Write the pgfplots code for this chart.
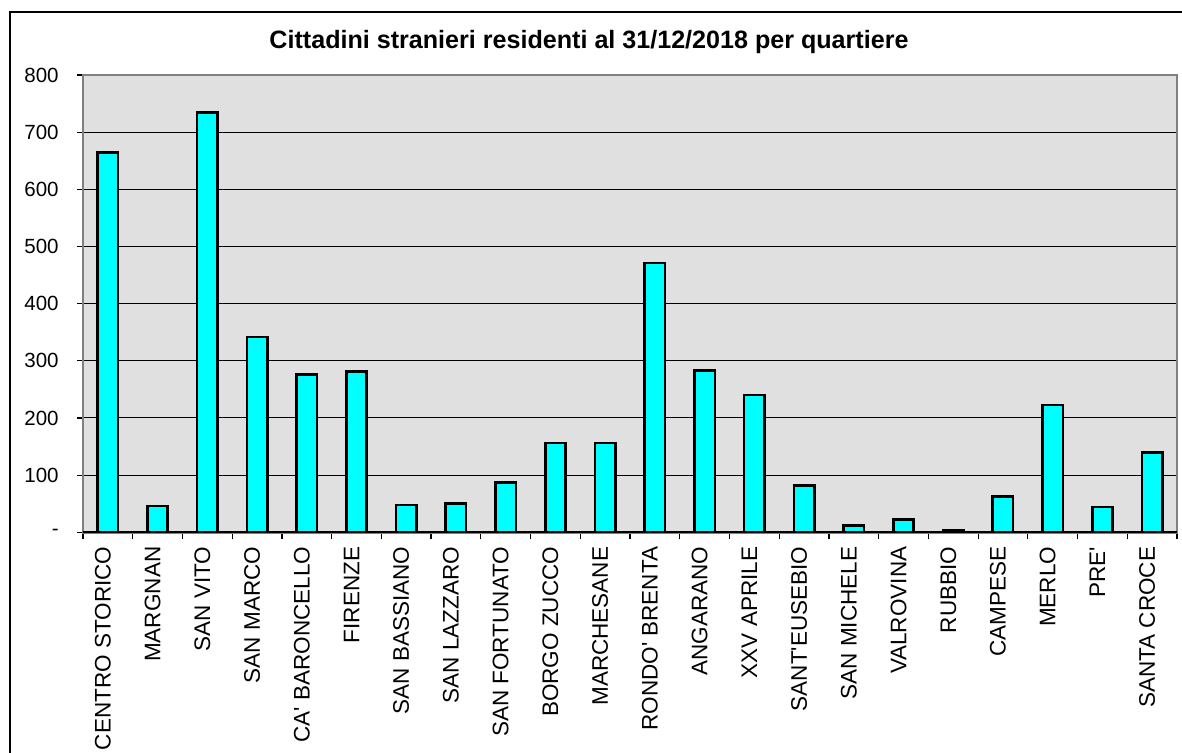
\documentclass[border=0pt]{standalone}
\usepackage{pgfplots}
\pgfplotsset{compat=1.18}
\usepackage{fontspec}
\setmainfont{Liberation Sans}[Ligatures=TeXOff]
\definecolor{plotbg}{RGB}{224,224,224}
\definecolor{barcyan}{RGB}{0,255,255}
\definecolor{framegray}{RGB}{128,128,128}
\begin{document}
\begin{tikzpicture}[x=1bp,y=1bp]
\useasboundingbox (-41.5,-109.85) rectangle (549.5,266.15);
\draw[line width=1bp] (-36.5,-140) rectangle (600,260.15);
\node[font=\bfseries\fontsize{12.6}{15}\selectfont, anchor=base] at (253,242.15) {Cittadini stranieri residenti al 31/12/2018 per quartiere};
\begin{axis}[
  at={(0,0)}, anchor=south west,
  scale only axis, width=547bp, height=228.65bp,
  xmin=-0.5, xmax=21.5, ymin=0, ymax=800,
  axis background/.style={fill=plotbg},
  axis line style={draw=framegray, line width=1.2bp},
  xtick pos=bottom, ytick pos=left,
  ytick={0,100,200,300,400,500,600,700,800},
  yticklabels={-\hspace{12.5bp},100,200,300,400,500,600,700,800},
  yticklabel style={font=\fontsize{10.3}{12}\selectfont, anchor=east, inner sep=0pt, xshift=-9bp},
  ymajorgrids, grid style={black, line width=0.5bp},
  tick align=outside,
  major tick length=3bp, minor tick length=3.5bp,
  tick style={black, line width=0.6bp},
  xtick={0,...,21},
  major x tick style={draw=none},
  minor xtick={-0.5,0.5,...,21.5},
  xticklabels={CENTRO STORICO,MARGNAN,SAN VITO,SAN MARCO,CA' BARONCELLO,FIRENZE,SAN BASSIANO,SAN LAZZARO,SAN FORTUNATO,BORGO ZUCCO,MARCHESANE,RONDO' BRENTA,ANGARANO,XXV APRILE,SANT'EUSEBIO,SAN MICHELE,VALROVINA,RUBBIO,CAMPESE,MERLO,PRE',SANTA CROCE},
  xticklabel style={font=\fontsize{11.3}{13}\selectfont, xshift=-2.5bp, rotate=90, anchor=east, inner xsep=4bp, inner ysep=0pt},
]
\addplot[ybar, bar width=0.41, fill=barcyan, draw=black, line width=1.3bp] coordinates {
(0,664) (1,46) (2,734) (3,342) (4,276) (5,281) (6,48) (7,50) (8,87) (9,156) (10,156)
(11,471) (12,283) (13,240) (14,82) (15,12) (16,22) (17,4) (18,63) (19,223) (20,44) (21,140)
};
\draw[black, line width=1bp] (axis cs:-0.5,0) -- (axis cs:21.5,0);
\draw[framegray, line width=1.2bp] (axis cs:-0.5,800) -- (axis cs:21.5,800);
\end{axis}
\end{tikzpicture}
\end{document}
